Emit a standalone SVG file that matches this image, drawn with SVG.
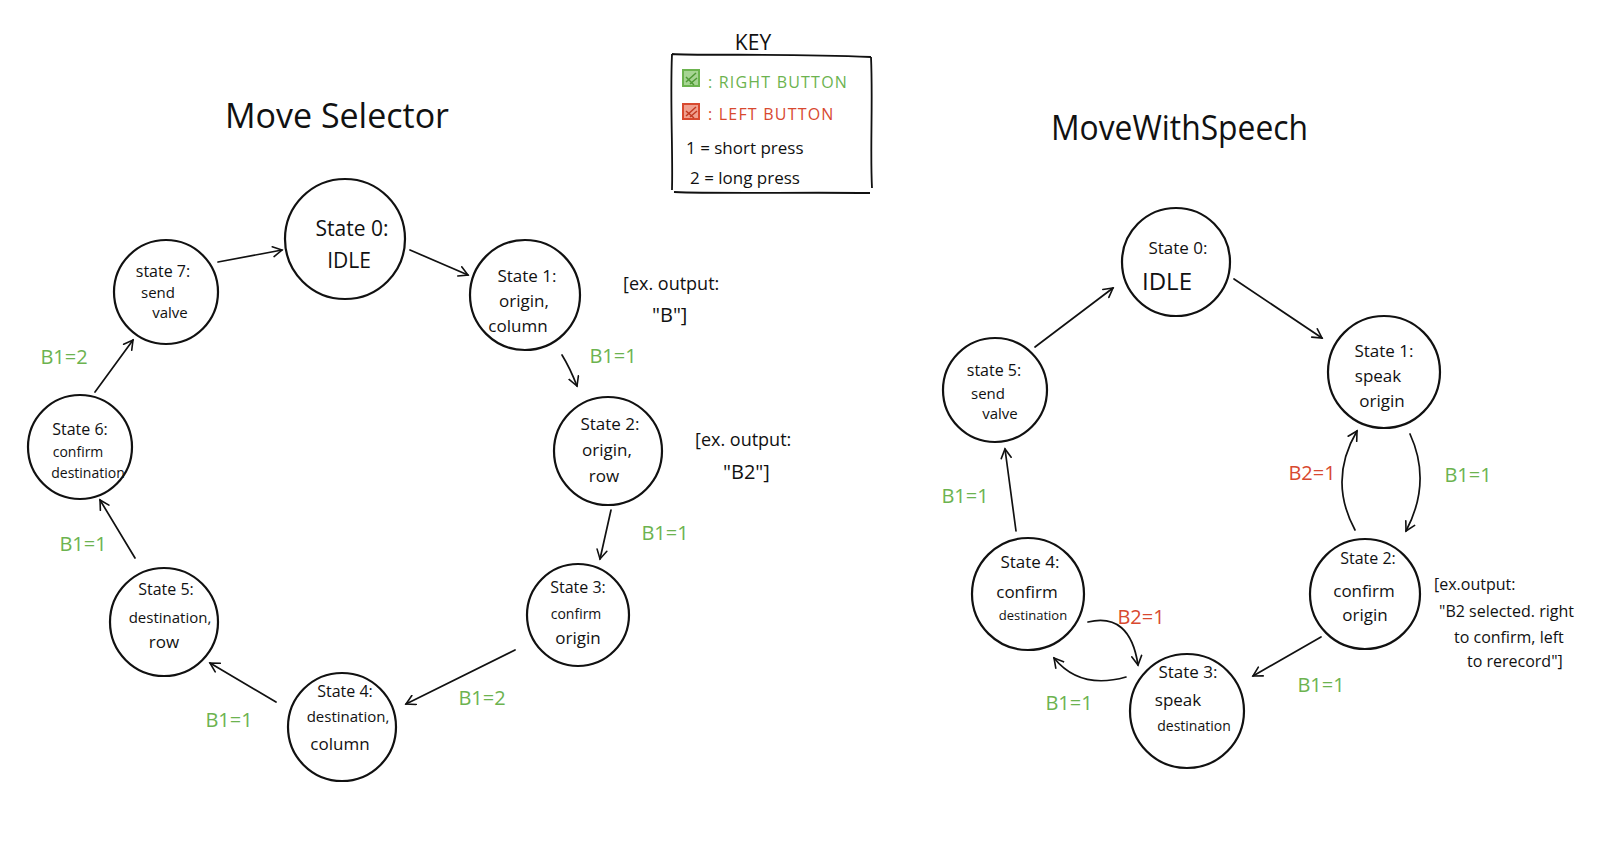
<svg xmlns="http://www.w3.org/2000/svg" width="1600" height="841" viewBox="0 0 1600 841">
<defs>
<marker id="ah" viewBox="0 0 12 12" refX="10" refY="6" markerWidth="12" markerHeight="12" markerUnits="userSpaceOnUse" orient="auto">
<path d="M1,1 L10,6 L1,11" fill="none" stroke="#111" stroke-width="1.6" stroke-linecap="round"/>
</marker>
</defs>
<style>
.n circle{fill:#fff;stroke:#111;stroke-width:2.2}
text{font-family:"Open Sans","Liberation Sans",sans-serif;fill:#111}
.m{text-anchor:middle}
.g{fill:#6cb34f}
.r{fill:#d8492f}
.e path{fill:none;stroke:#111;stroke-width:1.7;marker-end:url(#ah);stroke-linecap:round}
.title{font-size:34px}
.s20{font-size:20px}
.s17{font-size:17px}
.s14{font-size:14px}
.lbl{font-size:20px;text-anchor:middle}
</style>
<rect width="1600" height="841" fill="#fff"/>

<!-- Titles -->
<text class="title" x="225" y="128" textLength="224" lengthAdjust="spacingAndGlyphs">Move Selector</text>
<text class="title" x="1051" y="140" textLength="257" lengthAdjust="spacingAndGlyphs">MoveWithSpeech</text>

<!-- Key -->
<g id="key">
<text x="753" y="50" class="m" font-size="21">KEY</text>
<path d="M672,54 C700,56 780,53 871,57 M672,54 C670,100 673,150 672,190 M871,57 C873,100 870,150 872,188 M674,192 C720,194 800,192 870,193" fill="none" stroke="#111" stroke-width="1.8"/>
<rect x="683" y="70" width="16" height="16" fill="#a6d493" stroke="#6cb34f" stroke-width="2"/>
<path d="M686,82 L696,73 M686,77 L694,85 M690,84 L697,78" stroke="#4f9a35" stroke-width="1.5" fill="none"/>
<text x="708" y="88" class="g" font-size="16" letter-spacing="1.2">: RIGHT BUTTON</text>
<rect x="683" y="104" width="16" height="15" fill="#f0a08f" stroke="#d8492f" stroke-width="2"/>
<path d="M686,116 L696,107 M686,111 L694,118 M690,117 L697,111" stroke="#c23a22" stroke-width="1.5" fill="none"/>
<text x="708" y="120" class="r" font-size="16" letter-spacing="1.2">: LEFT BUTTON</text>
<text x="686" y="154" font-size="17">1 = short press</text>
<text x="690" y="184" font-size="17">2 = long press</text>
</g>

<!-- Left diagram nodes -->
<g id="ms-s0" class="n"><circle cx="345" cy="239" r="60"/>
<text class="m" x="352" y="236" font-size="21">State 0:</text>
<text class="m" x="349" y="268" font-size="21">IDLE</text></g>
<g id="ms-s1" class="n"><circle cx="525" cy="295" r="55"/>
<text class="m s17" x="527" y="282">State 1:</text>
<text class="m s17" x="524" y="307">origin,</text>
<text class="m s17" x="518" y="332">column</text></g>
<g id="ms-s2" class="n"><circle cx="608" cy="451" r="54"/>
<text class="m s17" x="610" y="430">State 2:</text>
<text class="m s17" x="607" y="456">origin,</text>
<text class="m s17" x="604" y="482">row</text></g>
<g id="ms-s3" class="n"><circle cx="578" cy="615" r="51"/>
<text class="m" x="578" y="593" font-size="16">State 3:</text>
<text class="m s14" x="576" y="619">confirm</text>
<text class="m s17" x="578" y="644">origin</text></g>
<g id="ms-s4" class="n"><circle cx="342" cy="727" r="54"/>
<text class="m" x="345" y="697" font-size="16">State 4:</text>
<text class="m" x="348" y="722" font-size="15">destination,</text>
<text class="m s17" x="340" y="750">column</text></g>
<g id="ms-s5" class="n"><circle cx="164" cy="622" r="54"/>
<text class="m" x="166" y="595" font-size="16">State 5:</text>
<text class="m" x="170" y="623" font-size="15">destination,</text>
<text class="m s17" x="164" y="648">row</text></g>
<g id="ms-s6" class="n"><circle cx="80" cy="447" r="52"/>
<text class="m" x="80" y="435" font-size="16">State 6:</text>
<text class="m s14" x="78" y="457">confirm</text>
<text class="m s14" x="88" y="478">destination</text></g>
<g id="ms-s7" class="n"><circle cx="166" cy="292" r="52"/>
<text class="m" x="163" y="277" font-size="16">state 7:</text>
<text class="m" x="158" y="298" font-size="15">send</text>
<text class="m" x="170" y="318" font-size="15">valve</text></g>

<!-- Right diagram nodes -->
<g id="mws-s0" class="n"><circle cx="1176" cy="262" r="54"/>
<text class="m s17" x="1178" y="254">State 0:</text>
<text x="1142" y="290" font-size="24">IDLE</text></g>
<g id="mws-s1" class="n"><circle cx="1384" cy="372" r="56"/>
<text class="m s17" x="1384" y="357">State 1:</text>
<text class="m s17" x="1378" y="382">speak</text>
<text class="m s17" x="1382" y="407">origin</text></g>
<g id="mws-s2" class="n"><circle cx="1365" cy="594" r="55"/>
<text class="m" x="1368" y="564" font-size="16">State 2:</text>
<text class="m s17" x="1364" y="597">confirm</text>
<text class="m s17" x="1365" y="621">origin</text></g>
<g id="mws-s3" class="n"><circle cx="1187" cy="711" r="57"/>
<text class="m s17" x="1188" y="678">State 3:</text>
<text class="m s17" x="1178" y="706">speak</text>
<text class="m s14" x="1194" y="731">destination</text></g>
<g id="mws-s4" class="n"><circle cx="1028" cy="594" r="56"/>
<text class="m s17" x="1030" y="568">State 4:</text>
<text class="m s17" x="1027" y="598">confirm</text>
<text class="m" x="1033" y="620" font-size="13">destination</text></g>
<g id="mws-s5" class="n"><circle cx="995" cy="390" r="52"/>
<text class="m" x="994" y="376" font-size="16">state 5:</text>
<text class="m" x="988" y="399" font-size="15">send</text>
<text class="m" x="1000" y="419" font-size="15">valve</text></g>

<!-- Connectors -->
<g id="connectors" class="e">
<path d="M410,250 L468,275"/>
<path d="M562,355 Q570,368 577,386"/>
<path d="M611,510 L600,559"/>
<path d="M515,650 L406,704"/>
<path d="M276,702 L210,663"/>
<path d="M135,558 L100,500"/>
<path d="M95,392 L133,340"/>
<path d="M218,262 L282,250"/>

<path d="M1035,347 L1113,288"/>
<path d="M1234,279 L1322,338"/>
<path d="M1410,434 Q1432,482 1406,531"/>
<path d="M1355,530 Q1328,480 1357,431"/>
<path d="M1321,637 L1253,676"/>
<path d="M1088,622 Q1130,612 1138,665"/>
<path d="M1126,677 Q1080,690 1054,658"/>
<path d="M1016,531 L1005,449"/>
</g>

<!-- Transition labels -->
<g id="labels">
<text class="lbl g" x="613" y="363">B1=1</text>
<text class="lbl g" x="665" y="540">B1=1</text>
<text class="lbl g" x="482" y="705">B1=2</text>
<text class="lbl g" x="229" y="727">B1=1</text>
<text class="lbl g" x="83" y="551">B1=1</text>
<text class="lbl g" x="64" y="364">B1=2</text>

<text class="lbl r" x="1312" y="480" font-size="17">B2=1</text>
<text class="lbl g" x="1468" y="482" font-size="22">B1=1</text>
<text class="lbl g" x="1321" y="692">B1=1</text>
<text class="lbl r" x="1141" y="624" font-size="17">B2=1</text>
<text class="lbl g" x="1069" y="710">B1=1</text>
<text class="lbl g" x="965" y="503" font-size="24">B1=1</text>
</g>

<!-- Example outputs -->
<g id="notes">
<text x="623" y="290" font-size="18">[ex. output:</text>
<text x="652" y="322" font-size="20">"B"]</text>
<text x="695" y="446" font-size="18">[ex. output:</text>
<text x="723" y="479" font-size="20">"B2"]</text>
<text x="1434" y="590" font-size="16">[ex.output:</text>
<text x="1439" y="617" font-size="16">"B2 selected. right</text>
<text x="1454" y="643" font-size="16">to confirm, left</text>
<text x="1467" y="667" font-size="16">to rerecord"]</text>
</g>
</svg>
